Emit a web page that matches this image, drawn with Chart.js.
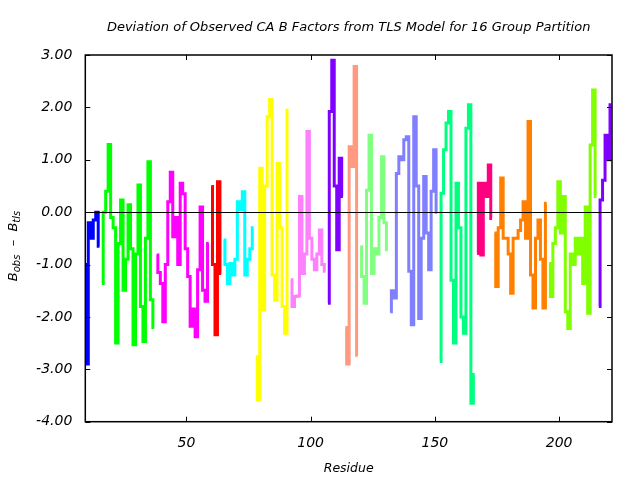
<!DOCTYPE html>
<html>
<head>
<meta charset="utf-8">
<title>TLS deviation</title>
<script src="https://cdn.jsdelivr.net/npm/chart.js@4.4.1/dist/chart.umd.min.js"></script>
<style>
  html, body { margin: 0; padding: 0; background: #fff; }
  #wrap { width: 640px; height: 480px; }
</style>
</head>
<body>
<div id="wrap"><canvas id="devChart" width="640" height="480"></canvas></div>
<script>
// first residue of each TLS group and the per-residue deviations (B_obs - B_tls)
const groupStarts = [9, 16, 38, 60, 65, 78, 92, 107, 114, 120, 132, 152, 167, 174, 196, 216];
const groupColors = ["#0000ff", "#00ff00", "#ff00ff", "#ff0000", "#00ffff", "#ffff00", "#ff80ff", "#8000ff",
                     "#ff9980", "#80ff80", "#8080ff", "#00ff80", "#ff0080", "#ff8000", "#80ff00", "#8000ff"];

const group1 = [-1.0, -2.9, -0.2, -0.5, -0.15, 0.0, -0.65];
const group2 = [-1.36, 0.0, 0.4, 1.29, -0.1, -0.3, -2.5, -0.6, 0.23, -1.49, -0.9, 0.14, -0.7, -2.53, -0.8, 0.52, -1.8, -2.47, -0.5, 0.96, -1.67, -2.2];
const group3 = [-0.82, -1.15, -1.36, -2.09, -1.0, 0.2, 0.76, -0.47, -0.1, -1.0, 0.55, 0.35, -0.7, -1.23, -2.18, -1.85, -2.38, -1.1, 0.1, -1.49, -1.7, -0.6];
const group4 = [0.49, -1.0, -2.34, 0.58, -1.17];
const group5 = [-0.53, -1.0, -1.36, -0.98, -1.2, -0.9, 0.2, 0.05, 0.39, -1.2, -0.9, -0.7, -0.3];
const group6 = [-2.76, -3.58, 0.84, -1.87, 0.5, 1.82, 2.15, -1.2, -1.68, 0.93, -0.3, -1.8, -2.31, 1.95];
const group7 = [-1.29, -1.8, -1.61, -1.6, 0.3, -1.17, -0.8, 1.54, -0.5, -0.9, -1.1, -0.8, -0.34, -1.0, -1.13];
const group8 = [-1.74, 1.92, 2.9, 0.5, -0.72, 1.03, 0.3];
const group9 = [-2.2, -2.9, 1.25, 0.87, 2.78, -2.73];
const group10 = [-0.66, -1.23, -1.74, 0.42, 1.47, -1.17, -0.7, -0.8, -0.1, 1.06, -0.2, -0.72];
const group11 = [-1.9, -1.5, -1.64, 0.74, 1.06, 1.0, 1.38, 1.44, -1.13, -2.15, 1.82, 0.5, -2.03, -0.5, 0.68, -0.4, -1.1, 0.4, 1.19, 0.0];
const group12 = [-2.85, 0.36, 1.19, 1.7, 1.92, -1.3, -2.5, 0.55, -0.3, -2.0, -2.31, 1.6, 2.05, -3.65, -3.1];
const group13 = [-0.79, 0.55, -0.82, 0.55, 0.3, 0.9, -0.12];
const group14 = [-0.4, -1.42, -0.3, 0.65, -0.5, -0.5, -0.8, -1.55, -0.5, -0.5, -0.35, -0.15, 0.2, -0.5, 1.73, -1.2, -1.83, -0.5, -0.15, -0.9, -1.83, 0.17];
const group15 = [-0.98, -1.61, -0.6, -0.3, 0.58, -0.4, 0.3, -1.9, -2.22, -0.8, -1.0, -0.5, -0.8, -0.5, -1.36, 0.1, -1.93, 1.28, 2.33, 0.3];
const group16 = [-1.8, 0.23, 0.61, 1.47, 1.0, 2.05];

const groupValues = [group1, group2, group3, group4, group5, group6, group7, group8,
                     group9, group10, group11, group12, group13, group14, group15, group16];

const xTicks = [50, 100, 150, 200];
const yTicks = [-4, -3, -2, -1, 0, 1, 2, 3];

const chartTitle = "Deviation of Observed CA B Factors from TLS Model for 16 Group Partition";
const xTitle = "Residue";

const FONT = "'DejaVu Sans', sans-serif";

// frame, zero line, inward ticks, title and axis labels drawn like the gnuplot original
const framePlugin = {
  id: "frame",
  afterDraw(chart) {
    const ctx = chart.ctx;
    const area = chart.chartArea;
    const xs = chart.scales.x;
    const ys = chart.scales.y;
    ctx.save();
    ctx.strokeStyle = "#000";

    // zero line sits on top of the data
    ctx.lineWidth = 1;
    const zy = Math.round(ys.getPixelForValue(0)) + 0.5;
    ctx.beginPath();
    ctx.moveTo(area.left, zy);
    ctx.lineTo(area.right, zy);
    ctx.stroke();

    ctx.lineWidth = 1.5;
    ctx.strokeRect(area.left, area.top, area.right - area.left, area.bottom - area.top);

    ctx.lineWidth = 1;
    ctx.beginPath();
    xTicks.forEach((v) => {
      const px = Math.round(xs.getPixelForValue(v)) + 0.5;
      ctx.moveTo(px, area.bottom); ctx.lineTo(px, area.bottom - 5);
      ctx.moveTo(px, area.top); ctx.lineTo(px, area.top + 5);
    });
    yTicks.forEach((v) => {
      const py = Math.round(ys.getPixelForValue(v)) + 0.5;
      ctx.moveTo(area.left, py); ctx.lineTo(area.left + 5, py);
      ctx.moveTo(area.right, py); ctx.lineTo(area.right - 5, py);
    });
    ctx.stroke();

    ctx.fillStyle = "#000";
    ctx.textAlign = "center";
    ctx.textBaseline = "alphabetic";
    ctx.font = "italic 13px " + FONT;
    ctx.fillText(chartTitle, (area.left + area.right) / 2, 31);
    ctx.font = "italic 12.5px " + FONT;
    ctx.fillText(xTitle, (area.left + area.right) / 2, 472);

    // y title with subscripts, rotated
    ctx.translate(17, 246);
    ctx.rotate(-Math.PI / 2);
    ctx.textAlign = "left";
    const parts = [["B", 0, 13], ["obs", 3, 10], ["  \u2013  B", 0, 13], ["tls", 3, 10]];
    let total = 0;
    parts.forEach((p) => {
      ctx.font = "italic " + p[2] + "px " + FONT;
      total += ctx.measureText(p[0]).width;
    });
    let cx = -total / 2;
    parts.forEach((p) => {
      ctx.font = "italic " + p[2] + "px " + FONT;
      ctx.fillText(p[0], cx, p[1]);
      cx += ctx.measureText(p[0]).width;
    });
    ctx.restore();
  }
};

document.addEventListener("DOMContentLoaded", () => {
  const canvas = document.getElementById("devChart");

  const datasets = groupValues.map((vals, i) => ({
    data: vals.map((v, k) => ({ x: groupStarts[i] + k, y: v })),
    borderColor: groupColors[i],
    backgroundColor: groupColors[i],
    borderWidth: 3,
    pointRadius: 0,
    stepped: "middle",
    fill: false
  }));

  new Chart(canvas, {
    type: "line",
    data: { datasets: datasets },
    options: {
      responsive: false,
      animation: false,
      layout: { padding: { left: 0, top: 55, right: 28, bottom: 0 } },
      plugins: { legend: { display: false }, tooltip: { enabled: false } },
      scales: {
        x: {
          type: "linear",
          min: 9.3,
          max: 221.3,
          afterFit: (scale) => { scale.height = 58.3; },
          afterBuildTicks: (scale) => { scale.ticks = xTicks.map((v) => ({ value: v })); },
          grid: { display: false, drawTicks: false },
          border: { display: false },
          ticks: { color: "#000", padding: 13, font: { family: FONT, size: 14, style: "italic" } }
        },
        y: {
          min: -4,
          max: 3,
          afterFit: (scale) => { scale.width = 85.3; },
          afterBuildTicks: (scale) => { scale.ticks = yTicks.map((v) => ({ value: v })); },
          grid: { display: false, drawTicks: false },
          border: { display: false },
          ticks: {
            color: "#000",
            padding: 13,
            font: { family: FONT, size: 14, style: "italic" },
            callback: (v) => Number(v).toFixed(2)
          }
        }
      }
    },
    plugins: [framePlugin]
  });
});
</script>
</body>
</html>
